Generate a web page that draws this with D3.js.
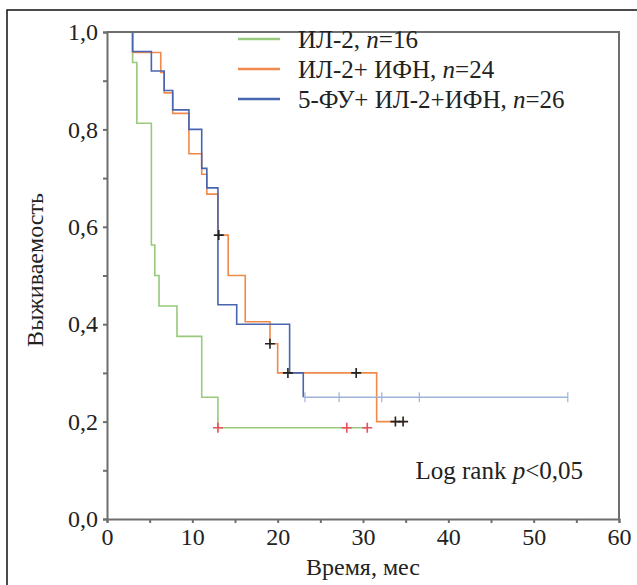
<!DOCTYPE html>
<head>
<meta charset="utf-8">
</head>
<style>
body { margin: 0; background: #fff; }
svg { font-family: "Liberation Serif", "Times New Roman", serif; }
.axis path, .axis line { stroke: #6e6e6e; stroke-width: 2; }
.axis text { fill: #222; }
.km { fill: none; stroke-width: 1.6; }
</style>
<body>
<svg id="chart" width="637" height="585"></svg>

<script src="https://d3js.org/d3.v7.min.js"></script>
<script>

// groups
var groupNames = ["ИЛ-2", "ИЛ-2+ ИФН", "5-ФУ+ ИЛ-2+ИФН"];
var groupN = [16, 24, 26];
var groupColors = ["#98c97c", "#f08a4b", "#4865b0"];

// Kaplan-Meier steps (months, survival)
var greenTimes = [0, 3.0, 3.5, 5.2, 5.6, 6.1, 8.2, 11.1, 13.0, 30.5];
var greenSurv  = [1, 0.9375, 0.8125, 0.5625, 0.5, 0.4375, 0.375, 0.25, 0.1875, 0.1875];
var greenCensT = [13.0, 28.1, 30.5];
var greenCensS = [0.1875, 0.1875, 0.1875];

var orangeTimes = [0, 3.0, 6.3, 6.7, 7.7, 9.6, 11.1, 11.7, 13.0, 14.2, 16.2, 19.1, 20.0, 31.6, 34.9];
var orangeSurv  = [1, 0.958, 0.917, 0.875, 0.833, 0.75, 0.708, 0.667, 0.583, 0.5, 0.405, 0.36, 0.30, 0.20, 0.20];
var orangeCensT = [13.1, 19.1, 29.2, 33.8, 34.7];
var orangeCensS = [0.583, 0.36, 0.30, 0.20, 0.20];

var blueTimes = [0, 3.0, 5.2, 6.7, 7.7, 9.6, 11.1, 11.7, 13.0, 15.2, 21.4, 23.0, 54.0];
var blueSurv  = [1, 0.96, 0.92, 0.88, 0.84, 0.80, 0.72, 0.68, 0.44, 0.40, 0.30, 0.25, 0.25];
var blueCensT = [21.2];
var blueCensS = [0.30];
var blueTickT = [23.2, 27.2, 32.2, 36.6, 54.0];
var blueTickS = [0.25, 0.25, 0.25, 0.25, 0.25];

var xTicks = [0, 5, 10, 15, 20, 25, 30, 35, 40, 45, 50, 55, 60];
var yTicks = [0, 0.1, 0.2, 0.3, 0.4, 0.5, 0.6, 0.7, 0.8, 0.9, 1.0];

var serif = "'Liberation Serif', 'Times New Roman', serif";
var svg = d3.select("#chart");
var pLeft = 107, pRight = 619, pTop = 32, pBottom = 519;

var x = d3.scaleLinear().domain([0, 60]).range([pLeft, pRight]),
    y = d3.scaleLinear().domain([0, 1]).range([pBottom, pTop]);

// outer frame
svg.append("rect")
    .attr("x", 7).attr("y", 10)
    .attr("width", 640).attr("height", 600)
    .attr("fill", "none").attr("stroke", "#111").attr("stroke-width", 1.5);

// survival curves
var line = d3.line()
    .x(function(d) { return x(d[0]); })
    .y(function(d) { return y(d[1]); })
    .curve(d3.curveStepAfter);

function curve(times, surv, color) {
  svg.append("path")
      .datum(d3.zip(times, surv))
      .attr("class", "km")
      .attr("stroke", color)
      .attr("d", line);
}
curve(greenTimes, greenSurv, groupColors[0]);
curve(orangeTimes, orangeSurv, groupColors[1]);
curve(blueTimes.slice(0, 12), blueSurv.slice(0, 12), groupColors[2]);
// lighter tail of the blue curve
svg.append("path")
    .datum(d3.zip(blueTimes.slice(11), blueSurv.slice(11)))
    .attr("class", "km")
    .attr("stroke", "#9fb3da").attr("stroke-width", 2.5)
    .attr("d", line);

function crosses(times, surv, color) {
  svg.append("g").selectAll("path")
    .data(d3.zip(times, surv))
    .enter().append("path")
      .attr("d", function(d) {
        var cx = x(d[0]), cy = y(d[1]);
        return "M" + (cx - 5) + "," + cy + "H" + (cx + 5) + "M" + cx + "," + (cy - 5) + "V" + (cy + 5);
      })
      .attr("stroke", color).attr("stroke-width", 1.6);
}
crosses(greenCensT, greenCensS, "#e8505a");
crosses(orangeCensT, orangeCensS, "#222");
crosses(blueCensT, blueCensS, "#222");

svg.append("g").selectAll("path")
  .data(d3.zip(blueTickT, blueTickS))
  .enter().append("path")
    .attr("d", function(d) {
      var cx = x(d[0]), cy = y(d[1]);
      return "M" + cx + "," + (cy - 5) + "V" + (cy + 5);
    })
    .attr("stroke", "#9fb3da").attr("stroke-width", 1.2);

// plot box (top + right), drawn over the curves at 1.0
svg.append("path")
    .attr("d", "M" + pLeft + "," + pTop + "H" + pRight + "V" + pBottom)
    .attr("fill", "none").attr("stroke", "#6e6e6e").attr("stroke-width", 2);

var comma = function(d) { return d3.format(".1f")(d).replace(".", ","); };

svg.append("g")
    .attr("class", "axis")
    .attr("transform", "translate(0," + pBottom + ")")
    .call(d3.axisBottom(x).tickValues(xTicks).tickSizeOuter(0).tickSize(4).tickPadding(5)
      .tickFormat(function(d) { return d % 10 === 0 ? d : ""; }))
    .attr("font-family", serif).attr("font-size", 24);

svg.append("g")
    .attr("class", "axis")
    .attr("transform", "translate(" + pLeft + ",0)")
    .call(d3.axisLeft(y).tickValues(yTicks).tickSizeOuter(0).tickSize(4).tickPadding(5)
      .tickFormat(function(d) { return Math.round(d * 10) % 2 === 0 ? comma(d) : ""; }))
    .attr("font-family", serif).attr("font-size", 24);

// legend
var legend = svg.append("g").selectAll("g")
  .data(groupNames)
  .enter().append("g")
    .attr("transform", function(d, i) { return "translate(238," + (39 + i * 30) + ")"; });

legend.append("line")
    .attr("x1", 0).attr("x2", 42)
    .attr("stroke", function(d, i) { return groupColors[i]; })
    .attr("stroke-width", 2.5);

var lt = legend.append("text")
    .attr("x", 60).attr("dy", "0.35em")
    .attr("font-family", serif)
    .style("font-size", "25px").attr("fill", "#222");
lt.append("tspan").text(function(d) { return d + ", "; });
lt.append("tspan").style("font-style", "italic").text("n");
lt.append("tspan").text(function(d, i) { return "=" + groupN[i]; });

// log rank note
var lr = svg.append("text")
    .attr("x", 583).attr("y", 479)
    .attr("text-anchor", "end")
    .attr("font-family", serif)
    .style("font-size", "25px").attr("fill", "#222");
lr.append("tspan").text("Log rank ");
lr.append("tspan").style("font-style", "italic").text("p");
lr.append("tspan").text("<0,05");

// axis titles
svg.append("text")
    .attr("x", 363).attr("y", 575)
    .attr("text-anchor", "middle")
    .attr("font-family", serif)
    .style("font-size", "24px").attr("fill", "#222")
    .text("Время, мес");

svg.append("text")
    .attr("transform", "translate(43,270) rotate(-90)")
    .attr("text-anchor", "middle")
    .attr("font-family", serif)
    .style("font-size", "24px").attr("fill", "#222")
    .text("Выживаемость");

</script>
</body>
